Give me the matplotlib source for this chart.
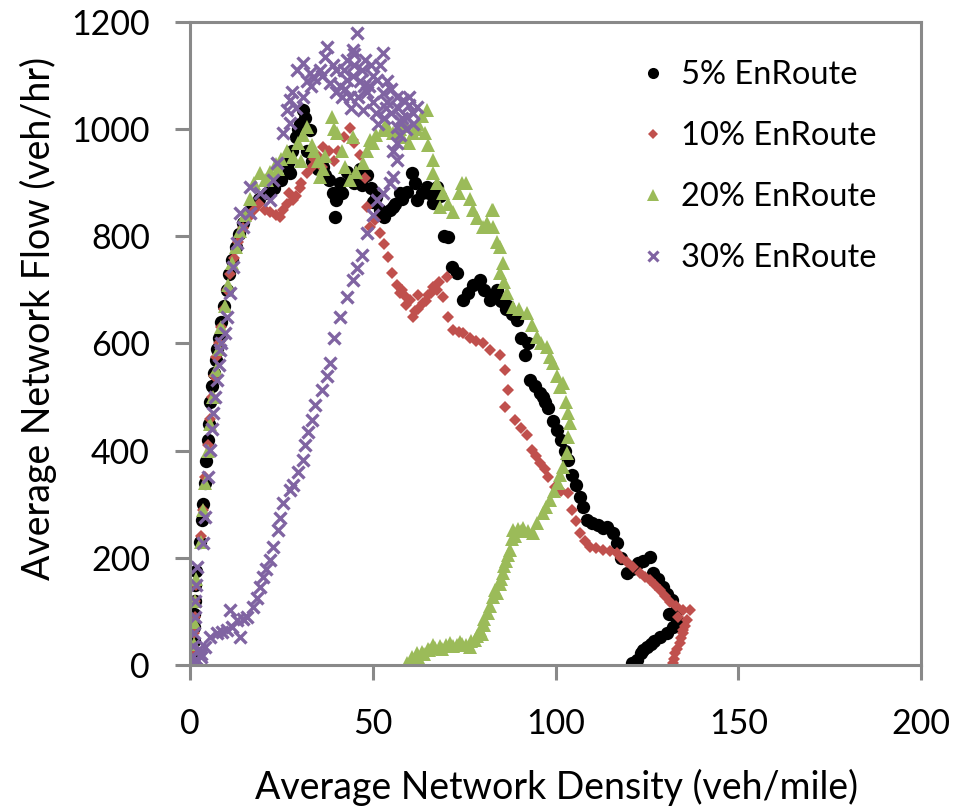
import matplotlib
matplotlib.use("Agg")
import matplotlib.pyplot as plt
from matplotlib.lines import Line2D

plt.rcParams['font.family'] = ['Lato', 'DejaVu Sans']

# ---- data: average network density (veh/mile) vs. average network flow (veh/hr)
labels = ["5% EnRoute", "10% EnRoute", "20% EnRoute", "30% EnRoute"]
colors = ["#000000", "#C0504D", "#9BBB59", "#8064A2"]

k_05 = [0.5, 0.8, 1.0, 1.1, 1.2, 1.3, 1.5, 1.6,
        2.8, 3.2, 3.6, 4.0, 4.4, 4.8, 5.2, 5.6, 6.0, 6.5, 7.0, 7.5, 8.0, 8.6, 9.2, 10.0,
        10.8, 11.6, 12.5, 13.5, 14.6, 16.0, 17.5, 19.0, 21.0, 23.0, 25.0, 26.5, 27.4, 28.0,
        29.0, 30.0, 30.9, 31.5, 32.8, 32.0, 33.5, 35.0, 36.5, 38.0, 39.0, 40.0, 39.7, 41.0,
        43.0, 45.0, 46.5, 48.4, 49.5, 51.0, 52.0, 53.0, 54.7, 56.0, 57.5, 59.4, 60.7, 62.0,
        63.5, 64.8, 66.5, 67.6, 68.5, 69.5, 70.6, 71.7, 73.0, 74.7, 76.0, 77.5, 79.3, 80.5,
        82.0, 83.5, 85.0, 86.5, 88.0, 89.5, 90.5, 91.7, 93.0, 94.5, 95.8, 97.0, 98.0, 99.2,
        100.4, 101.5, 102.5, 103.4, 104.5, 105.5, 106.7, 107.5, 108.6, 110.0, 111.5, 113.0,
        114.0, 115.7, 116.8, 118.0, 119.6, 121.0, 122.5, 124.0, 125.9, 126.7, 128.0, 129.4,
        130.5, 131.9, 133.0, 133.2, 132.2, 130.5, 128.6, 127.0, 125.0, 123.5, 122.3, 121.0,
        41.5, 44.0, 47.0, 50.0, 52.5, 55.5, 58.0, 61.5, 65.5, 34.0, 37.0, 29.5, 27.0,
        84.0, 87.0, 92.5, 96.5, 131.0, 126.0, 124.0]
q_05 = [0, 20, 45, 70, 95, 120, 150, 175,
        230, 270, 300, 340, 380, 420, 450, 490, 520, 545, 570, 590, 610, 640, 670, 700,
        730, 755, 780, 805, 825, 845, 860, 870, 880, 890, 905, 930, 918, 960,
        985, 1010, 1036, 1020, 998, 960, 940, 925, 930, 905, 880, 868, 836, 900,
        920, 900, 925, 914, 890, 873, 850, 836, 849, 860, 880, 883, 918, 868,
        880, 892, 862, 892, 875, 800, 799, 743, 731, 681, 695, 710, 718, 700,
        681, 690, 680, 665, 655, 644, 610, 578, 532, 520, 508, 490, 480, 455,
        438, 420, 400, 383, 355, 335, 314, 295, 271, 265, 262, 255,
        258, 246, 228, 200, 172, 180, 190, 195, 202, 172, 160, 146,
        132, 121, 100, 84, 71, 60, 52, 44, 34, 22, 9, 4,
        880, 910, 895, 865, 840, 855, 870, 900, 880, 950, 915, 1000, 940,
        700, 670, 600, 500, 95, 40, 28]

k_10 = [0.6, 0.9, 1.1, 1.3, 1.5, 1.7,
        3.0, 3.5, 4.2, 4.8, 5.4, 6.0, 6.6, 7.2, 7.8, 8.5, 9.3, 10.2, 11.0, 12.0, 13.2, 14.5,
        16.0, 17.5, 19.0, 20.5, 22.0, 23.5, 24.6, 25.5, 26.5, 28.2, 29.0, 30.5, 32.0, 33.5,
        35.0, 36.4, 38.0, 39.5, 40.5, 42.0, 43.8, 45.0, 46.5, 47.9, 48.4, 49.2, 50.5, 52.0,
        53.0, 54.2, 55.3, 56.5, 57.5, 58.8, 60.2, 61.0, 62.5, 63.7, 65.0, 66.5, 68.0, 70.3,
        69.2, 70.5, 72.0, 73.5, 74.7, 76.5, 78.3, 80.2, 82.0, 84.8, 86.2, 87.0, 86.2, 88.9,
        90.5, 92.2, 93.6, 94.7, 95.8, 97.0, 98.0, 99.9, 101.5, 103.4, 104.5, 105.5, 106.7,
        108.0, 109.4, 111.0, 113.0, 115.0, 116.8, 118.0, 119.6, 121.3, 123.0, 124.5, 125.9,
        127.3, 128.6, 130.0, 131.3, 133.0, 134.9, 136.8, 136.0, 135.5, 134.9, 134.3, 134.0,
        133.3, 132.7, 132.4, 132.2,
        58.0, 59.0, 61.5, 62.5, 64.5, 66.0, 67.5, 27.0, 30.0, 34.0, 44.5, 36.0, 133.5, 135.0]
q_10 = [0, 30, 60, 90, 120, 150,
        240, 290, 350, 410, 460, 500, 540, 575, 600, 630, 665, 700, 730, 760, 790, 815,
        835, 850, 860, 850, 845, 840, 836, 850, 860, 868, 876, 900, 918, 930,
        950, 967, 960, 940, 960, 985, 1002, 975, 952, 909, 855, 817, 830, 806,
        785, 761, 731, 710, 694, 688, 681, 649, 665, 675, 690, 705, 715, 724,
        687, 650, 625, 622, 619, 610, 605, 601, 588, 578, 550, 513, 482, 457,
        443, 429, 401, 390, 377, 365, 351, 332, 325, 321, 289, 268, 246,
        232, 220, 218, 215, 212, 209, 200, 192, 182, 172, 165, 159,
        150, 140, 129, 118, 110, 103, 103, 84, 72, 60, 50, 41,
        30, 22, 12, 3,
        700, 672, 660, 690, 680, 695, 700, 880, 890, 945, 980, 930, 90, 65]

k_20 = [0.7, 1.0, 1.2, 1.4, 1.6,
        3.0, 3.5, 4.2, 5.0, 5.6, 6.3, 7.0, 7.8, 8.6, 9.5, 10.5, 11.5, 12.5, 13.8, 15.0, 16.4,
        17.5, 19.2, 20.5, 22.0, 23.5, 25.0, 26.5, 28.2, 29.5, 31.0, 32.0, 33.5, 35.0, 35.6,
        37.0, 38.9, 40.2, 41.5, 42.5, 43.8, 45.5, 47.3, 48.5, 49.2, 51.0, 52.8, 54.0, 55.5,
        57.5, 59.0, 61.0, 62.5, 63.5, 64.8, 64.3, 65.0, 66.5, 66.5, 67.5, 69.2, 68.4, 70.5,
        72.0, 73.5, 74.4, 75.5, 76.5, 77.4, 78.5, 80.2, 81.3, 82.6, 83.0, 83.0, 84.0, 84.8,
        85.6, 84.8, 86.0, 86.7, 88.4, 90.0, 92.2, 93.5, 94.9, 96.0, 97.7, 98.5, 99.3, 100.3,
        101.2, 102.0, 102.8, 103.5, 104.0, 103.4, 103.1, 102.0, 101.3, 100.7, 99.5, 98.5,
        97.5, 96.6, 95.0, 93.8, 92.5, 91.1, 89.8, 88.4, 88.0, 87.6, 86.5, 85.6, 84.8, 84.0,
        83.0, 81.5, 80.5, 79.9, 79.3, 78.0, 76.6, 74.5, 73.0, 71.0, 68.5, 66.5, 65.0, 63.5,
        62.0, 60.8, 59.4,
        61.0, 62.5, 64.0, 65.5, 67.0, 69.0, 70.0, 72.0, 74.0, 75.5, 77.0, 78.5, 80.5, 82.0,
        83.5, 85.0, 86.0, 87.0, 89.0, 90.5, 30.5, 34.0, 36.5, 39.5, 44.5, 50.0, 53.5, 58.0,
        60.0, 62.0, 21.0, 24.0]
q_20 = [0, 40, 80, 120, 160,
        230, 290, 340, 400, 450, 500, 550, 590, 630, 670, 710, 750, 780, 810, 840, 870,
        900, 918, 905, 920, 935, 945, 960, 948, 975, 990, 1004, 970, 940, 911,
        950, 1023, 993, 960, 930, 905, 920, 937, 960, 980, 990, 998, 1000, 993,
        1000, 1005, 993, 1010, 1025, 1036, 993, 970, 942, 918, 900, 881, 855, 860,
        845, 880, 899, 900, 870, 849, 835, 817, 825, 849, 849, 817, 790, 780,
        750, 731, 715, 694, 668, 665, 657, 635, 612, 600, 593, 575, 563, 540,
        519, 526, 490, 470, 452, 425, 396, 369, 355, 340, 325, 308,
        295, 284, 265, 246, 250, 256, 254, 252, 235, 215, 195, 172, 152, 134,
        127, 97, 75, 57, 65, 47, 34, 40, 38, 41, 36, 37, 30, 25,
        22, 14, 4,
        10, 15, 20, 28, 32, 30, 38, 35, 42, 38, 45, 55, 85, 110,
        140, 160, 185, 205, 240, 250, 940, 960, 925, 1000, 985, 975, 1010, 985,
        975, 1000, 905, 925]

k_30 = [0.3, 0.6, 0.9, 1.1, 1.3, 1.5, 1.7, 1.9, 2.5, 3.0, 1.0, 2.0,
        3.6, 4.1, 4.9, 5.5, 6.0, 6.3, 6.8, 7.4, 7.8, 8.2, 8.6, 9.6, 10.1, 10.9, 11.8, 12.9,
        13.7, 14.5, 16.4, 16.4, 19.2, 21.9, 22.8, 23.8, 25.4, 27.4, 26.5, 27.4, 29.3, 30.9,
        32.8, 34.0, 35.5, 37.5, 38.3, 40.0, 41.5, 43.0, 43.8, 44.6, 45.7, 45.0, 46.5, 47.3,
        48.5, 50.0, 51.2, 52.0, 52.8, 52.8, 54.0, 55.0, 56.5, 58.3, 60.0, 62.0, 61.0, 59.4,
        57.5, 56.6, 56.6, 56.6, 55.5, 54.7, 52.8, 51.2, 50.0, 48.4, 47.1, 45.8, 44.6, 43.0,
        41.0, 39.5, 38.3, 37.5, 36.1, 34.2, 33.4, 32.3, 31.5, 30.9, 29.5, 28.2, 27.4, 25.4,
        24.7, 24.1, 22.7, 21.9, 20.9, 20.0, 19.2, 18.2, 17.2, 15.6, 14.5, 12.9, 10.9, 13.7,
        11.5, 10.1, 8.8, 7.4, 5.5, 4.1, 3.0, 1.9, 0.0,
        36.0, 39.0, 41.0, 42.0, 44.0, 46.0, 47.0, 49.0, 50.0, 51.0, 53.0, 54.0, 55.0, 57.0,
        58.0, 60.0, 61.0, 59.0, 33.0, 31.0, 29.0, 28.0, 48.0, 45.0, 43.0, 40.0, 44.5, 49.5,
        53.5, 57.5, 55.5, 51.5, 47.5, 42.5, 37.0, 32.0]
q_30 = [0, 15, 35, 60, 90, 120, 150, 183, 30, 15, 5, 10,
        228, 276, 351, 401, 440, 470, 500, 532, 560, 588, 600, 620, 649, 694, 743, 787,
        843, 817, 843, 892, 881, 868, 905, 937, 993, 1011, 1035, 1054, 1110, 1123,
        1105, 1095, 1110, 1153, 1086, 1070, 1060, 1092, 1060, 1148, 1179, 1120, 1090, 1036,
        1070, 1100, 1092, 1120, 1142, 1067, 1050, 1075, 1060, 1054, 1045, 1041, 1030, 1023,
        1015, 1004, 974, 942, 911, 899, 881, 868, 840, 806, 765, 740, 718, 687,
        649, 610, 563, 540, 513, 485, 457, 435, 410, 383, 360, 336, 327, 302,
        275, 252, 220, 196, 180, 164, 146, 125, 108, 90, 85, 84, 103, 52,
        70, 65, 62, 60, 52, 34, 20, 9, 0,
        1100, 1120, 1080, 1110, 1040, 1060, 1110, 1080, 1050, 1030, 1020, 1090, 1030, 1040,
        1020, 1060, 1010, 1000, 1080, 1060, 1040, 1070, 1130, 1140, 1130, 1110, 1100, 1120,
        1040, 990, 960, 1010, 1080, 1075, 1135, 1090]

x_ticks = [0, 50, 100, 150, 200]
y_ticks = [0, 200, 400, 600, 800, 1000, 1200]

series = [(k_05, q_05), (k_10, q_10), (k_20, q_20), (k_30, q_30)]
styles = [dict(marker='o', ms=9.6, mew=0),
          dict(marker='D', ms=6.6, mew=0),
          dict(marker='^', ms=9.8, mew=0),
          dict(marker='x', ms=9.0, mew=2.4)]

fig = plt.figure(figsize=(9.57, 8.09), dpi=100)
ax = fig.add_axes([190 / 957, 1 - 665 / 809, (921 - 190) / 957, (665 - 22) / 809])

for (k, q), st, c in zip(series, styles, colors):
    ax.plot(k, q, ls='none', color=c, mec=c, mfc=c, **st)

ax.set_xlim(0, 200)
ax.set_ylim(0, 1200)
ax.set_xticks(x_ticks)
ax.set_yticks(y_ticks)

spine_c = '#898989'
for s in ax.spines.values():
    s.set_color(spine_c)
    s.set_linewidth(2.2)
ax.tick_params(axis='both', direction='out', length=10.8, width=2.2, color=spine_c,
               labelsize=24.5, labelcolor='black')
ax.tick_params(axis='x', pad=20)
ax.tick_params(axis='y', pad=18)

fig.text(557 / 957, 1 - 787 / 809, 'Average Network Density (veh/mile)',
         ha='center', va='center', fontsize=27)
fig.text(38 / 957, 1 - 318 / 809, 'Average Network Flow (veh/hr)',
         ha='center', va='center', rotation=90, fontsize=27)

handles = [Line2D([], [], ls='none', color=c, mec=c, mfc=c, **st)
           for st, c in zip(styles, colors)]
handles[0].set_markersize(8)
handles[1].set_markersize(5.6)
handles[2].set_markersize(8)
handles[3].set_markersize(7)
handles[3].set_markeredgewidth(2.2)
leg = ax.legend(handles, labels, loc='upper left', frameon=False,
                bbox_to_anchor=(643 / 957, 1 - 60 / 809), bbox_transform=fig.transFigure,
                fontsize=23.5, handlelength=0.6, handletextpad=0.55, labelspacing=0.95,
                borderpad=0, borderaxespad=0)

fig.savefig('out.png', dpi=100)
